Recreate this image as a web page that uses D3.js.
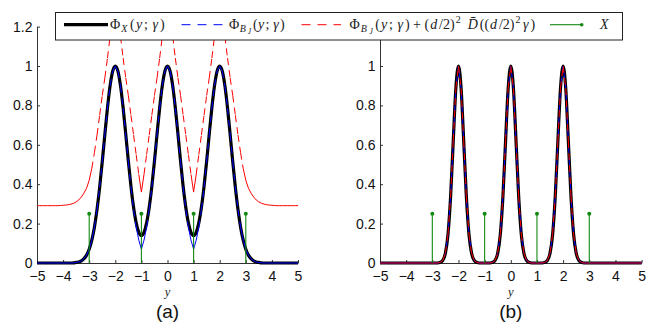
<!DOCTYPE html>
<html><head><meta charset="utf-8">
<script src="https://cdn.jsdelivr.net/npm/d3@7"></script>
<style>body{margin:0;background:#fff}svg{display:block}</style>
</head><body>
<svg id="c" width="654" height="329"></svg>
<script>
// ---------- data ----------
const ys = [-5,-4.9,-4.8,-4.7,-4.6,-4.5,-4.4,-4.3,-4.2,-4.1,-4,-3.9,-3.8,-3.7,-3.6,-3.5,-3.4,-3.3,-3.2,-3.1,
 -3,-2.9,-2.8,-2.7,-2.6,-2.5,-2.4,-2.3,-2.2,-2.1,-2,-1.9,-1.8,-1.7,-1.6,-1.5,-1.4,-1.3,-1.2,-1.1,
 -1,-0.9,-0.8,-0.7,-0.6,-0.5,-0.4,-0.3,-0.2,-0.1,0,0.1,0.2,0.3,0.4,0.5,0.6,0.7,0.8,0.9,
 1,1.1,1.2,1.3,1.4,1.5,1.6,1.7,1.8,1.9,2,2.1,2.2,2.3,2.4,2.5,2.6,2.7,2.8,2.9,
 3,3.1,3.2,3.3,3.4,3.5,3.6,3.7,3.8,3.9,4,4.1,4.2,4.3,4.4,4.5,4.6,4.7,4.8,4.9,5];

// panel (a)
const phiXa = [0,0,0,0,0,0,0,0,0,0,0,0,0,0,
 0.001,0.003,0.005,0.011,0.022,0.040,0.070,0.116,0.182,0.272,0.384,0.514,0.653,0.787,0.899,0.974,
 1.000,
 0.974,0.899,0.788,0.655,0.517,0.389,0.283,0.204,0.156,
 0.140,
 0.156,0.204,0.283,0.389,0.517,0.655,0.788,0.899,0.974,
 1.000,
 0.974,0.899,0.788,0.655,0.517,0.389,0.283,0.204,0.156,
 0.140,
 0.156,0.204,0.283,0.389,0.517,0.655,0.788,0.899,0.974,
 1.000,
 0.974,0.899,0.787,0.653,0.514,0.384,0.272,0.182,0.116,0.070,0.040,0.022,0.011,0.005,0.003,0.001,
 0,0,0,0,0,0,0,0,0,0,0,0,0,0];
const phiBJa = [0,0,0,0,0,0,0,0,0,0,0,0,0,0,
 0.001,0.003,0.005,0.011,0.022,0.040,0.070,0.116,0.182,0.272,0.384,0.514,0.653,0.787,0.899,0.974,
 1.000,
 0.974,0.899,0.787,0.653,0.514,0.384,0.272,0.182,0.116,
 0.070,
 0.116,0.182,0.272,0.384,0.514,0.653,0.787,0.899,0.974,
 1.000,
 0.974,0.899,0.787,0.653,0.514,0.384,0.272,0.182,0.116,
 0.070,
 0.116,0.182,0.272,0.384,0.514,0.653,0.787,0.899,0.974,
 1.000,
 0.974,0.899,0.787,0.653,0.514,0.384,0.272,0.182,0.116,0.070,0.040,0.022,0.011,0.005,0.003,0.001,
 0,0,0,0,0,0,0,0,0,0,0,0,0,0];
const boundA = [0.291,0.291,0.291,0.291,0.291,0.291,0.291,0.291,0.291,
 0.292,0.293,0.294,0.296,0.299,0.303,0.310,0.320,0.335,0.355,0.380,0.420,
 0.48,0.56,0.65,0.75,0.85,0.94,1.04,1.15,1.25,
 1.29,
 1.25,1.15,1.04,0.94,0.85,0.75,0.65,0.55,0.45,
 0.36,
 0.45,0.55,0.65,0.75,0.85,0.94,1.04,1.15,1.25,
 1.29,
 1.25,1.15,1.04,0.94,0.85,0.75,0.65,0.55,0.45,
 0.36,
 0.45,0.55,0.65,0.75,0.85,0.94,1.04,1.15,1.25,
 1.29,
 1.25,1.15,1.04,0.94,0.85,0.75,0.65,0.56,0.48,
 0.420,0.380,0.355,0.335,0.320,0.310,0.303,0.299,0.296,0.294,0.293,0.292,
 0.291,0.291,0.291,0.291,0.291,0.291,0.291,0.291,0.291];

// panel (b)
const phiXb = [0,0,0,0,0,0,0,0,0,0,0,0,0,0,0,0,0,0,0,0,0,0,0,
 0.003,0.013,0.050,0.147,0.340,0.619,0.887,
 1.000,
 0.887,0.619,0.340,0.147,0.050,0.013,0.003,
 0,0,0,0,0,
 0.003,0.013,0.050,0.147,0.340,0.619,0.887,
 1.000,
 0.887,0.619,0.340,0.147,0.050,0.013,0.003,
 0,0,0,0,0,
 0.003,0.013,0.050,0.147,0.340,0.619,0.887,
 1.000,
 0.887,0.619,0.340,0.147,0.050,0.013,0.003,
 0,0,0,0,0,0,0,0,0,0,0,0,0,0,0,0,0,0,0,0,0,0,0];
const phiBJb = [0,0,0,0,0,0,0,0,0,0,0,0,0,0,0,0,0,0,0,0,0,0,0,
 0.003,0.013,0.050,0.147,0.340,0.619,0.887,
 1.000,
 0.887,0.619,0.340,0.147,0.050,0.013,0.003,
 0,0,0,0,0,
 0.003,0.013,0.050,0.147,0.340,0.619,0.887,
 1.000,
 0.887,0.619,0.340,0.147,0.050,0.013,0.003,
 0,0,0,0,0,
 0.003,0.013,0.050,0.147,0.340,0.619,0.887,
 1.000,
 0.887,0.619,0.340,0.147,0.050,0.013,0.003,
 0,0,0,0,0,0,0,0,0,0,0,0,0,0,0,0,0,0,0,0,0,0,0];
const boundB = [0,0,0,0,0,0,0,0,0,0,0,0,0,0,0,0,0,0,0,0,0,0,0,
 0.003,0.013,0.050,0.147,0.340,0.619,0.887,
 1.000,
 0.887,0.619,0.340,0.147,0.050,0.013,0.003,
 0,0,0,0,0,
 0.003,0.013,0.050,0.147,0.340,0.619,0.887,
 1.000,
 0.887,0.619,0.340,0.147,0.050,0.013,0.003,
 0,0,0,0,0,
 0.003,0.013,0.050,0.147,0.340,0.619,0.887,
 1.000,
 0.887,0.619,0.340,0.147,0.050,0.013,0.003,
 0,0,0,0,0,0,0,0,0,0,0,0,0,0,0,0,0,0,0,0,0,0,0];

// sample points X (stems)
const stemPos = [-3,-1,1,3];
const stemVal = [0.25,0.25,0.25,0.25];

// ticks
const xTicks = [-5,-4,-3,-2,-1,0,1,2,3,4,5];
const yTicks = [0,0.2,0.4,0.6,0.8,1,1.2];
const panelLabels = ["(a)","(b)"];

// ---------- drawing ----------
const svg = d3.select("#c");
const SANS = "'Liberation Sans', Arial, Helvetica, sans-serif";
const SERIF = "'Liberation Serif', 'Times New Roman', serif";
const GREEN = "#128a12";

const y = d3.scaleLinear().domain([0,1.2]).range([263,26.6]);

const panels = [
  {x0:37, x1:298, X:phiXa, B:phiBJa, R:boundA, label:panelLabels[0], blueOff:0, blueSolid:0.2, redSolid:0.52, hideTop:false},
  {x0:380, x1:641.6, X:phiXb, B:phiBJb, R:boundB, label:panelLabels[1], blueOff:7, blueSolid:0, redSolid:0, hideTop:true}
];

function dashedSegments(g, pts, vals, color, off, solidBelow){
  const segs = d3.pairs(pts.map((p,i)=>[p[0],p[1],vals[i]]));
  g.append("g").selectAll("line").data(segs).join("line")
    .attr("x1",d=>d[0][0]).attr("y1",d=>d[0][1])
    .attr("x2",d=>d[1][0]).attr("y2",d=>d[1][1])
    .attr("stroke",color).attr("stroke-width",1)
    .attr("stroke-dasharray",d=>{
      const len = Math.hypot(d[1][0]-d[0][0], d[1][1]-d[0][1]);
      const solid = Math.max(d[0][2],d[1][2]) <= solidBelow || len < 7;
      return solid ? null : "7,5";
    })
    .attr("stroke-dashoffset",off)
    .attr("stroke-linecap","butt");
}

panels.forEach((p,pi)=>{
  const x = d3.scaleLinear().domain([-5,5]).range([p.x0,p.x1]);
  const g = svg.append("g");

  const xa = g.append("g").attr("transform",`translate(0,${y(0)})`)
    .call(d3.axisBottom(x).tickValues(xTicks).tickSizeInner(-3).tickSizeOuter(0)
      .tickPadding(8).tickFormat(d3.format("")));
  const ya = g.append("g").attr("transform",`translate(${p.x0},0)`)
    .call(d3.axisLeft(y).tickValues(yTicks).tickSizeInner(-3).tickSizeOuter(0)
      .tickPadding(4.5).tickFormat(d3.format("")));
  [xa,ya].forEach(a=>{
    a.attr("font-family",SANS).attr("font-size",14).attr("color","#333");
    a.selectAll("text").attr("fill","#111");
  });
  // the top label of panel (b) sits under the legend box in the reference
  if(p.hideTop) ya.selectAll(".tick text").filter(d=>d===1.2).remove();

  const cid = "clip"+pi;
  svg.append("clipPath").attr("id",cid).append("rect")
    .attr("x",p.x0-4).attr("y",y(1.2)).attr("width",p.x1-p.x0+8).attr("height",y(0)-y(1.2)+6);
  const plot = g.append("g").attr("clip-path",`url(#${cid})`);

  const pts = arr => ys.map((v,i)=>[x(v), y(arr[i])]);

  plot.append("path").attr("d", d3.line().curve(d3.curveMonotoneX)(pts(p.X)))
    .attr("fill","none").attr("stroke","#000").attr("stroke-width",3.2)
    .attr("stroke-linejoin","round");
  dashedSegments(plot, pts(p.B), p.B, "#0000ff", p.blueOff, p.blueSolid);
  dashedSegments(plot, pts(p.R), p.R, "#ff0000", 0, p.redSolid);

  const st = plot.append("g");
  st.selectAll("line").data(stemPos).join("line")
    .attr("x1",d=>x(d)).attr("x2",d=>x(d))
    .attr("y1",y(0)).attr("y2",(d,i)=>y(stemVal[i]))
    .attr("stroke",GREEN).attr("stroke-width",1.1);
  st.selectAll("circle").data(stemPos).join("circle")
    .attr("cx",d=>x(d)).attr("cy",(d,i)=>y(stemVal[i])).attr("r",2)
    .attr("fill",GREEN);

  g.append("text").attr("x",x(0)).attr("y",295.5).attr("text-anchor","middle")
    .attr("font-family",SERIF).attr("font-style","italic").attr("font-size",12.5)
    .attr("fill","#222").text("y");
  g.append("text").attr("x",x(0)).attr("y",318).attr("text-anchor","middle")
    .attr("font-family",SANS).attr("font-size",19).attr("fill","#111").text(p.label);
});

// ---------- legend ----------
const lg = svg.append("g");
lg.append("rect").attr("x",55.5).attr("y",12.5).attr("width",567).attr("height",27.5)
  .attr("fill","#fff").attr("stroke","#222").attr("stroke-width",1);

const LY = 24.7, TB = 28.5;
lg.append("line").attr("x1",64).attr("x2",108).attr("y1",LY).attr("y2",LY)
  .attr("stroke","#000").attr("stroke-width",3.2);
lg.append("line").attr("x1",181.5).attr("x2",224).attr("y1",LY).attr("y2",LY)
  .attr("stroke","#0000ff").attr("stroke-width",1).attr("stroke-dasharray","9,7");
lg.append("line").attr("x1",301.5).attr("x2",341).attr("y1",LY).attr("y2",LY)
  .attr("stroke","#ff0000").attr("stroke-width",1).attr("stroke-dasharray","9,7");
lg.append("line").attr("x1",550).attr("x2",581.7).attr("y1",LY).attr("y2",LY)
  .attr("stroke",GREEN).attr("stroke-width",1.1);
lg.append("circle").attr("cx",581.7).attr("cy",LY).attr("r",1.8).attr("fill",GREEN);

function buildMath(x0, parts, scale, spacing){
  const t = lg.append("text").attr("x",x0).attr("y",TB)
    .attr("font-family",SERIF).attr("font-size",14*scale).attr("fill","#222");
  let cur = 0;
  parts.forEach(([s,kind],k)=>{
    let shift = 0, size = 14, it = false;
    if(kind==="i"){it=true;}
    if(kind==="sub"){shift=3;size=10;it=true;}
    if(kind==="subsub"){shift=5;size=7.5;it=true;}
    if(kind==="sup"){shift=-5.5;size=10;}
    const prevScript = k>0 && parts[k-1][1]!=="n" && parts[k-1][1]!=="i";
    const prevItalic = k>0 && parts[k-1][1]!=="n";
    t.append("tspan").attr("dy",(shift-cur)*scale)
      .attr("dx", k===0 ? 0 : (prevScript ? 1.5 : (prevItalic ? 0.8 : 0)) + spacing)
      .attr("font-size",size*scale)
      .attr("font-style",it?"italic":"normal").text(s);
    cur = shift;
  });
  return t;
}
function mathText(x0, parts, target){
  let t = buildMath(x0, parts, 1, 0);
  let w = t.node().getBBox().width;
  let scale = 1;
  if(w > target*0.95){
    t.remove();
    scale = target*0.9/w;
    t = buildMath(x0, parts, scale, 0);
    w = t.node().getBBox().width;
  }
  if(w < target && parts.length>1){
    const sp = (target-w)/(parts.length-1);
    t.remove();
    t = buildMath(x0, parts, scale, sp);
  }
  return t;
}
mathText(110, [["Φ","n"],["X","sub"],["(","n"],["y","i"],["; ","n"],["γ","i"],[")","n"]], 55);
mathText(229, [["Φ","n"],["B","sub"],["J","subsub"],["(","n"],["y","i"],["; ","n"],["γ","i"],[")","n"]], 56);
mathText(349.5, [["Φ","n"],["B","sub"],["J","subsub"],["(","n"],["y","i"],["; ","n"],["γ","i"],[") + (","n"],
  ["d","i"],["/2)","n"],["2","sup"],[" ","n"],["D\u0304","i"],["((","n"],["d","i"],["/2)","n"],["2","sup"],["γ","i"],[")","n"]], 186);
mathText(600, [["X","i"]], 12);
</script>
</body></html>
